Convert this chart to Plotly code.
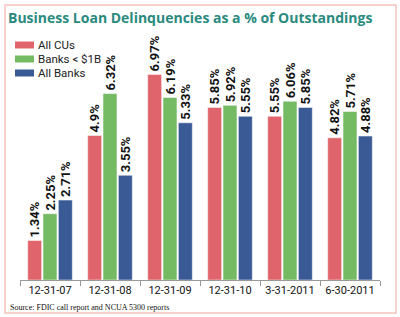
import plotly.graph_objects as go

categories = ["12-31-07", "12-31-08", "12-31-09", "12-31-10", "3-31-2011", "6-30-2011"]
all_cus = [1.34, 4.9, 6.97, 5.85, 5.55, 4.82]
banks_small = [2.25, 6.32, 6.19, 5.92, 6.06, 5.71]
all_banks = [2.71, 3.55, 5.33, 5.55, 5.85, 4.88]
series_names = ["All CUs", "Banks < $1B", "All Banks"]
colors = ["#e0646c", "#74bb64", "#3a5a96"]

def fmt(v):
    s = ("%.2f" % v).rstrip("0")
    return s + "%"

COND = "Roboto, Liberation Sans Narrow, sans-serif"

fig = go.Figure()
for name, vals, col in zip(series_names, [all_cus, banks_small, all_banks], colors):
    fig.add_trace(go.Bar(
        x=categories, y=vals, name=name,
        marker=dict(color=col, line=dict(color="white", width=0.5)),
        text=[fmt(v) for v in vals], textposition="outside", textangle=-90,
        textfont=dict(family=COND, size=13, color="#111111", weight="bold"),
        constraintext="none", cliponaxis=False, showlegend=False,
    ))

W, H = 400, 317
L, R, B, T = 20, 20, 37, 44
pw, ph = W - L - R, H - T - B

def px(x):
    return (x - L) / pw

def py(y):
    return (H - B - y) / ph

shapes = [dict(type="rect", xref="paper", yref="paper",
               x0=px(5), x1=px(396), y0=py(313), y1=py(5),
               line=dict(color="#f2c4bc", width=1.5), fillcolor="rgba(0,0,0,0)",
               layer="below")]
annotations = [dict(text="Source: FDIC call report and NCUA 5300 reports",
                    xref="paper", yref="paper", x=px(8), y=py(307),
                    xanchor="left", yanchor="middle", showarrow=False,
                    font=dict(family="Liberation Serif, Georgia, serif", size=8, color="#111111"))]

# manual legend
leg_y = [45, 59, 73]
for name, col, yc in zip(series_names, colors, leg_y):
    shapes.append(dict(type="rect", xref="paper", yref="paper",
                       x0=px(15), x1=px(34), y0=py(yc + 3.5), y1=py(yc - 3.5),
                       line=dict(width=0), fillcolor=col))
    annotations.append(dict(text=name, xref="paper", yref="paper",
                            x=px(36), y=py(yc), xanchor="left", yanchor="middle",
                            showarrow=False,
                            font=dict(family=COND, size=11.5, color="#222222")))

fig.update_layout(
    width=W, height=H,
    margin=dict(l=L, r=R, t=T, b=B, autoexpand=False),
    paper_bgcolor="white", plot_bgcolor="white",
    barmode="group", bargap=0.233, bargroupgap=0.09,
    showlegend=False,
    title=dict(text="<b>Business Loan Delinquencies as a % of Outstandings</b>",
               x=8 / W, y=1 - 18 / H, xanchor="left", yanchor="middle",
               font=dict(family="Open Sans, Arial, sans-serif", size=14, color="#2a8a7e")),
    xaxis=dict(showline=True, linecolor="#999999", linewidth=1,
               ticks="outside", tickson="boundaries", ticklen=5, tickcolor="#999999",
               tickangle=0, automargin=False,
               tickfont=dict(family=COND, size=11, color="#111111"),
               showgrid=False, fixedrange=True),
    yaxis=dict(range=[0, 8], visible=False, showgrid=False, fixedrange=True,
               automargin=False),
    shapes=shapes,
    annotations=annotations,
)

fig.write_html("out.html")
